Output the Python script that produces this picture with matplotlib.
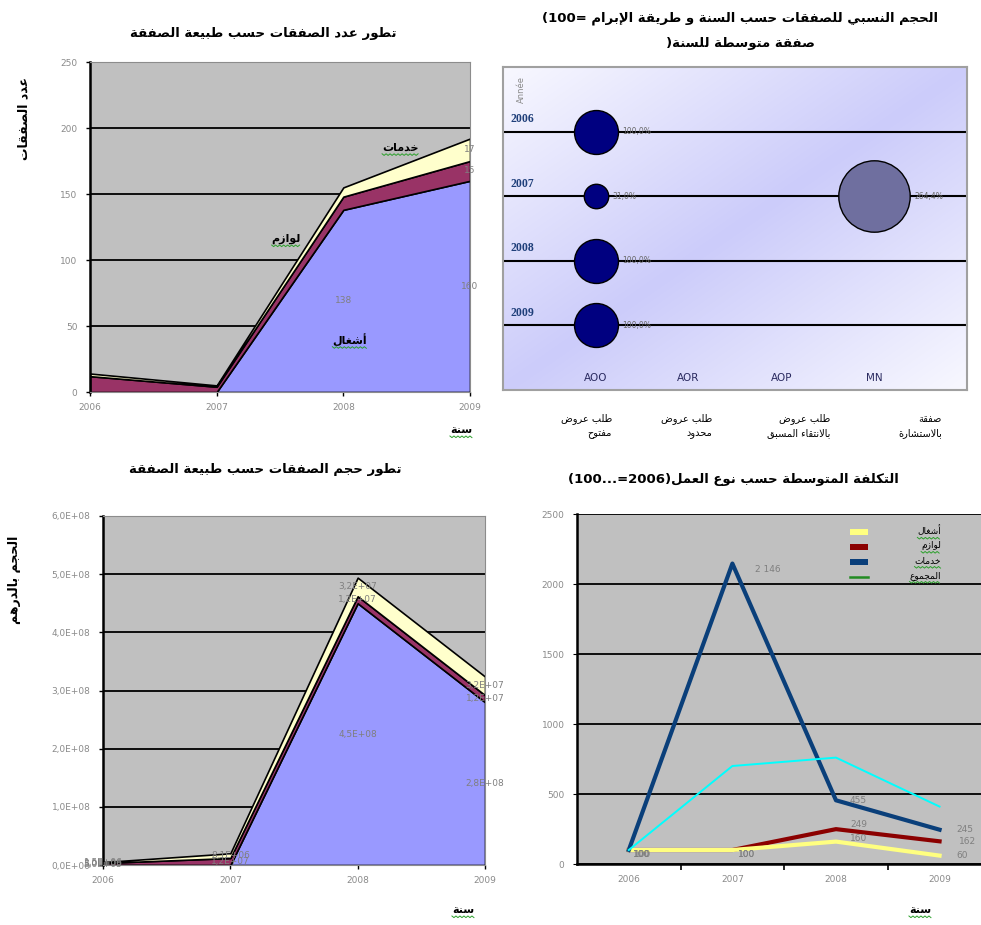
import numpy as np
import matplotlib
matplotlib.use("Agg")
import matplotlib.pyplot as plt
from matplotlib.patches import Rectangle
from matplotlib.lines import Line2D

plt.rcParams['font.family'] = ['DejaVu Sans']

W, H = 981, 925

# ---------------------------------------------------------------- data
years = [2006, 2007, 2008, 2009]

# number of contracts by nature (stacked)
count_works = [0, 0, 138, 160]
count_supplies = [12, 4, 10, 15]
count_services = [2, 1, 7, 17]

# value of contracts in dirhams by nature (stacked)
value_works = [0.5e6, 0.0, 4.5e8, 2.8e8]
value_supplies = [3.0e6, 1.2e7, 1.2e7, 1.2e7]
value_services = [1.5e6, 8.1e6, 3.2e7, 3.2e7]

# relative size of contracts by year and award method (100 = average contract)
award_methods = ["AOO", "AOR", "AOP", "MN"]
award_names = ["طلب عروض\nمفتوح", "طلب عروض\nمحدود",
               "طلب عروض\nبالانتقاء المسبق", "صفقة\nبالاستشارة"]
bubble_year = [2006, 2007, 2007, 2008, 2009]
bubble_method = ["AOO", "AOO", "MN", "AOO", "AOO"]
bubble_share = [100.0, 31.0, 264.4, 100.0, 100.0]

# average cost index by type of work (2006 = 100)
index_names = ["أشغال", "لوازم", "خدمات", "المجموع"]
index_yellow = [100, 100, 160, 60]
index_red = [100, 100, 249, 162]
index_blue = [100, 2146, 455, 245]
index_cyan = [100, 700, 760, 410]

# ---------------------------------------------------------------- arabic shaping
_ORDER = "ءآأؤإئابةتثجحخدذرزسشصضطظعغفقكلمنهوىي"
_RIGHT_ONLY = set("آأؤإاةدذرزوى")
_FORMS = {}
_base = 0xFE80
for _ch in _ORDER:
    _n = 1 if _ch == "ء" else (2 if _ch in _RIGHT_ONLY else 4)
    _FORMS[_ch] = [chr(_base + i) for i in range(_n)]
    _base += _n
_LAM_ALEF = {"آ": 0xFEF5, "أ": 0xFEF7, "إ": 0xFEF9, "ا": 0xFEFB}


def _joins_next(ch):
    return ch in _FORMS and len(_FORMS[ch]) == 4


def _joins_prev(ch):
    return ch in _FORMS and len(_FORMS[ch]) >= 2


def ar(text):
    """Return visual (shaped, right-to-left reversed) form of Arabic text."""
    lines = []
    for line in text.split("\n"):
        units = []
        i = 0
        while i < len(line):
            ch = line[i]
            if ch == "ل" and i + 1 < len(line) and line[i + 1] in _LAM_ALEF:
                units.append(("LA", line[i + 1]))
                i += 2
            else:
                units.append(("C", ch))
                i += 1
        out = []
        for k, (kind, ch) in enumerate(units):
            prev = units[k - 1] if k > 0 else None
            nxt = units[k + 1] if k + 1 < len(units) else None
            prev_j = prev is not None and prev[0] == "C" and _joins_next(prev[1])
            if kind == "LA":
                out.append(chr(_LAM_ALEF[ch] + (1 if prev_j else 0)))
                continue
            if ch not in _FORMS:
                out.append(ch)
                continue
            forms = _FORMS[ch]
            pj = prev_j and _joins_prev(ch)
            nj = _joins_next(ch) and nxt is not None and (
                nxt[0] == "LA" or (nxt[0] == "C" and _joins_prev(nxt[1])))
            if pj and nj:
                out.append(forms[3])
            elif pj:
                out.append(forms[1])
            elif nj:
                out.append(forms[2])
            else:
                out.append(forms[0])
        lines.append("".join(reversed(out)))
    return "\n".join(lines)


# ---------------------------------------------------------------- styling
GRAY_BG = "#c0c0c0"
AREA_BLUE = "#9999ff"
AREA_MAROON = "#993366"
AREA_CREAM = "#ffffcc"
TICK_GRAY = "#8a8a8a"
LABEL_GRAY = "#7f7f7f"
SPELL_GREEN = "#2ca02c"

fig = plt.figure(figsize=(W / 100, H / 100), dpi=100)
fig.patch.set_facecolor("white")
checked_words = []


def box(x0, y0, x1, y1):
    return fig.add_axes([x0 / W, 1 - y1 / H, (x1 - x0) / W, (y1 - y0) / H])


def ftext(x, y, s, **kw):
    return fig.text(x / W, 1 - y / H, s, **kw)


def excel_area_axes(ax):
    ax.set_facecolor(GRAY_BG)
    ax.set_axisbelow(True)
    ax.yaxis.grid(True, color="black", linewidth=1.3)
    ax.xaxis.grid(False)
    for side in ("top", "right", "bottom"):
        ax.spines[side].set_color("#8c8c8c")
        ax.spines[side].set_linewidth(0.8)
    ax.spines["left"].set_color("black")
    ax.spines["left"].set_linewidth(1.8)
    ax.tick_params(axis="both", labelsize=6.5, labelcolor=TICK_GRAY,
                   color="black", length=3, width=1)
    ax.tick_params(axis="y", pad=6)
    ax.tick_params(axis="x", pad=5)


title_kw = dict(fontsize=9.5, fontweight="bold", color="black", ha="center", va="center")

# ================================================================ top-left
ax1 = box(90, 62, 470, 392)
excel_area_axes(ax1)
ax1.stackplot(years, count_works, count_supplies, count_services,
              colors=[AREA_BLUE, AREA_MAROON, AREA_CREAM],
              edgecolor="black", linewidth=1.2)
ax1.set_xlim(2006, 2009)
ax1.set_ylim(0, 250)
ax1.set_yticks(range(0, 251, 50))
ax1.set_xticks(years)
ax1.set_xticklabels([str(y) for y in years])

cum1 = np.cumsum([count_works, count_supplies, count_services], axis=0)
for yi, series_idx in [(2, 0), (3, 0), (3, 1), (3, 2)]:
    lo = cum1[series_idx - 1][yi] if series_idx > 0 else 0
    hi = cum1[series_idx][yi]
    val = [count_works, count_supplies, count_services][series_idx][yi]
    ax1.text(years[yi], (lo + hi) / 2, str(val), fontsize=6.5, color=LABEL_GRAY,
             ha="center", va="center", clip_on=False)
checked_words.append(ax1.text(2008.45, 185, ar("خدمات"), fontsize=8, fontweight="bold",
                              ha="center", va="center"))
checked_words.append(ax1.text(2007.55, 116, ar("لوازم"), fontsize=8, fontweight="bold",
                              ha="center", va="center"))
checked_words.append(ax1.text(2008.05, 40, ar("أشغال"), fontsize=8, fontweight="bold",
                              ha="center", va="center"))

ftext(263, 34, ar("تطور عدد الصفقات حسب طبيعة الصفقة"), **title_kw)
ftext(24, 118, ar("عدد الصفقات"), fontsize=9, fontweight="bold", rotation=90,
      ha="center", va="center")
checked_words.append(ftext(461, 430, ar("سنة"), fontsize=8, fontweight="bold",
                           ha="center", va="center"))

# ================================================================ top-right
ax2 = box(503, 67, 967, 390)
ax2.set_xlim(0, 5)
ax2.set_ylim(2010, 2005)
gx, gy = np.meshgrid(np.linspace(0, 1, 200), np.linspace(0, 1, 200))
t = (gx + gy) / 2
strength = 1 - np.abs(t - 0.5) * 2
light = np.array([248, 248, 255]) / 255
deep = np.array([204, 204, 250]) / 255
grad = light[None, None, :] + (deep - light)[None, None, :] * strength[..., None]
ax2.imshow(grad, extent=(0, 5, 2010, 2005), aspect="auto", zorder=0,
           interpolation="bilinear")
for y in years:
    ax2.axhline(y, color="black", linewidth=1.5, zorder=1)
    ax2.text(0.08, y - 0.1, str(y), fontsize=8.5, color="#1f3f7a", fontweight="bold",
             family="Liberation Serif", ha="left", va="bottom", zorder=3)
xpos = {m: i + 1 for i, m in enumerate(award_methods)}
for yr, meth, share in zip(bubble_year, bubble_method, bubble_share):
    color = "#6f6f9f" if meth == "MN" else "#000080"
    size = share * 10.0
    ax2.scatter([xpos[meth]], [yr], s=size, color=color, edgecolor="black",
                linewidth=1, zorder=2)
    r_pt = np.sqrt(size) / 2
    ax2.annotate(f"{share:.1f}%".replace(".", ","), (xpos[meth], yr),
                 xytext=(r_pt + 3, 0), textcoords="offset points",
                 fontsize=5.5, color="#6a6a6a", ha="left", va="center", zorder=3)
for m in award_methods:
    ax2.text(xpos[m], 2009.82, m, fontsize=7.5, color="#2a2a60",
             ha="center", va="center", zorder=3)
ax2.text(0.2, 2005.35, "Année", fontsize=6, color="#8a8a8a", rotation=90,
         ha="center", va="center", zorder=3)
ax2.set_xticks([])
ax2.set_yticks([])
for sp in ax2.spines.values():
    sp.set_color("#a0a0a0")
    sp.set_linewidth(1.5)

ftext(740, 18, "(100= " + ar("الحجم النسبي للصفقات حسب السنة و طريقة الإبرام"), **title_kw)
ftext(740, 43, ")" + ar("صفقة متوسطة للسنة"), **title_kw)
label_right = [612, 712, 830, 942]
for xr, name in zip(label_right, award_names):
    ftext(xr, 426, ar(name), fontsize=7, ha="right", va="center", linespacing=1.5)

# ================================================================ bottom-left
ax3 = box(103, 516, 485, 865)
excel_area_axes(ax3)
ax3.stackplot(years, value_works, value_supplies, value_services,
              colors=[AREA_BLUE, AREA_MAROON, AREA_CREAM],
              edgecolor="black", linewidth=1.2)
ax3.set_xlim(2006, 2009)
ax3.set_ylim(0, 6e8)
yt = np.arange(0, 6.01e8, 1e8)
ax3.set_yticks(yt)
ax3.set_yticklabels([f"{v:.1E}".replace(".", ",") for v in yt])
ax3.set_xticks(years)
ax3.set_xticklabels([str(y) for y in years])


def sci(v):
    return f"{v:.1E}".replace(".", ",")


val_series = [value_works, value_supplies, value_services]
cum3 = np.cumsum(val_series, axis=0)
for yi in range(4):
    for si in range(3):
        if val_series[si][yi] <= 0:
            continue
        lo = cum3[si - 1][yi] if si > 0 else 0
        hi = cum3[si][yi]
        ax3.text(years[yi], (lo + hi) / 2, sci(val_series[si][yi]), fontsize=6.5,
                 color=LABEL_GRAY, ha="center", va="center", clip_on=False)

ftext(265, 469, ar("تطور حجم الصفقات حسب طبيعة الصفقة"), **title_kw)
ftext(15, 580, ar("الحجم بالدرهم"), fontsize=9, fontweight="bold", rotation=90,
      ha="center", va="center")
checked_words.append(ftext(463, 910, ar("سنة"), fontsize=8, fontweight="bold",
                           ha="center", va="center"))

# ================================================================ bottom-right
ax4 = box(577, 514, 981, 864)
ax4.set_facecolor(GRAY_BG)
ax4.set_axisbelow(True)
ax4.yaxis.grid(True, color="black", linewidth=1.3)
ax4.set_xlim(2005.5, 2009.4)
ax4.set_ylim(0, 2500)
ax4.set_yticks(range(0, 2501, 500))
ax4.set_xticks(years)
ax4.set_xticklabels([str(y) for y in years])
ax4.set_xticks([2006.5, 2007.5, 2008.5], minor=True)
ax4.tick_params(axis="x", which="major", length=0, pad=8)
ax4.tick_params(axis="x", which="minor", length=4, width=1.2, color="black")
ax4.tick_params(axis="both", labelsize=6.5, labelcolor=TICK_GRAY)
ax4.tick_params(axis="y", length=3, color="black", pad=6)
for side in ("top", "right"):
    ax4.spines[side].set_visible(False)
ax4.spines["left"].set_color("black")
ax4.spines["left"].set_linewidth(1.8)
ax4.spines["bottom"].set_color("black")
ax4.spines["bottom"].set_linewidth(1.8)

c_yellow, c_red, c_blue, c_cyan, c_green = "#ffff80", "#8b0000", "#0a3f7a", "#00ffff", "#228b22"
ax4.plot(years, index_red, color=c_red, linewidth=3, zorder=3)
ax4.plot(years, index_yellow, color=c_yellow, linewidth=3, zorder=4)
ax4.plot(years, index_blue, color=c_blue, linewidth=3, zorder=5)
ax4.plot(years, index_cyan, color=c_cyan, linewidth=1.4, zorder=6)


def fmt_int(v):
    return f"{v:,}".replace(",", " ")


for series, offsets in [(index_yellow, [(3, -3), (4, -3), (10, 2), (12, 0)]),
                        (index_red, [(4, -3), (4, -3), (10, 3), (14, 0)]),
                        (index_blue, [(3, -3), (16, -4), (10, 0), (12, 0)])]:
    for yr, v, off in zip(years, series, offsets):
        ax4.annotate(fmt_int(v), (yr, v), xytext=off, textcoords="offset points",
                     fontsize=6.5, color=LABEL_GRAY, ha="left", va="center", zorder=7,
                     annotation_clip=False)

legend_colors = [c_yellow, c_red, c_blue]
legend_y = [532, 547, 562, 577]
for y, col in zip(legend_y[:3], legend_colors):
    fig.patches.append(Rectangle((850 / W, 1 - (y + 3) / H), 18 / W, 6 / H,
                                 transform=fig.transFigure, facecolor=col,
                                 edgecolor="none", zorder=10))
fig.lines.append(Line2D([850 / W, 868 / W], [1 - legend_y[3] / H] * 2,
                        transform=fig.transFigure, color=c_green, linewidth=1.8, zorder=10))
for y, name in zip(legend_y, index_names):
    checked_words.append(ftext(941, y - 1, ar(name), fontsize=6.5, ha="right",
                               va="center", zorder=11))

ftext(733, 480, "(100...=2006)" + ar("التكلفة المتوسطة حسب نوع العمل"), **title_kw)
checked_words.append(ftext(920, 910, ar("سنة"), fontsize=8, fontweight="bold",
                           ha="center", va="center"))

# wavy proofing underline beneath single-word labels
fig.canvas.draw()
renderer = fig.canvas.get_renderer()
for txt in checked_words:
    bb = txt.get_window_extent(renderer)
    xs = np.arange(bb.x0, bb.x1 + 0.1, 2.0)
    ys = bb.y0 - 1.0 + np.where(np.arange(len(xs)) % 2 == 0, 0.0, -1.6)
    fig.lines.append(Line2D(xs / fig.bbox.width, ys / fig.bbox.height,
                            transform=fig.transFigure, color=SPELL_GREEN,
                            linewidth=0.7, zorder=12))

fig.savefig("out.png", dpi=100)
